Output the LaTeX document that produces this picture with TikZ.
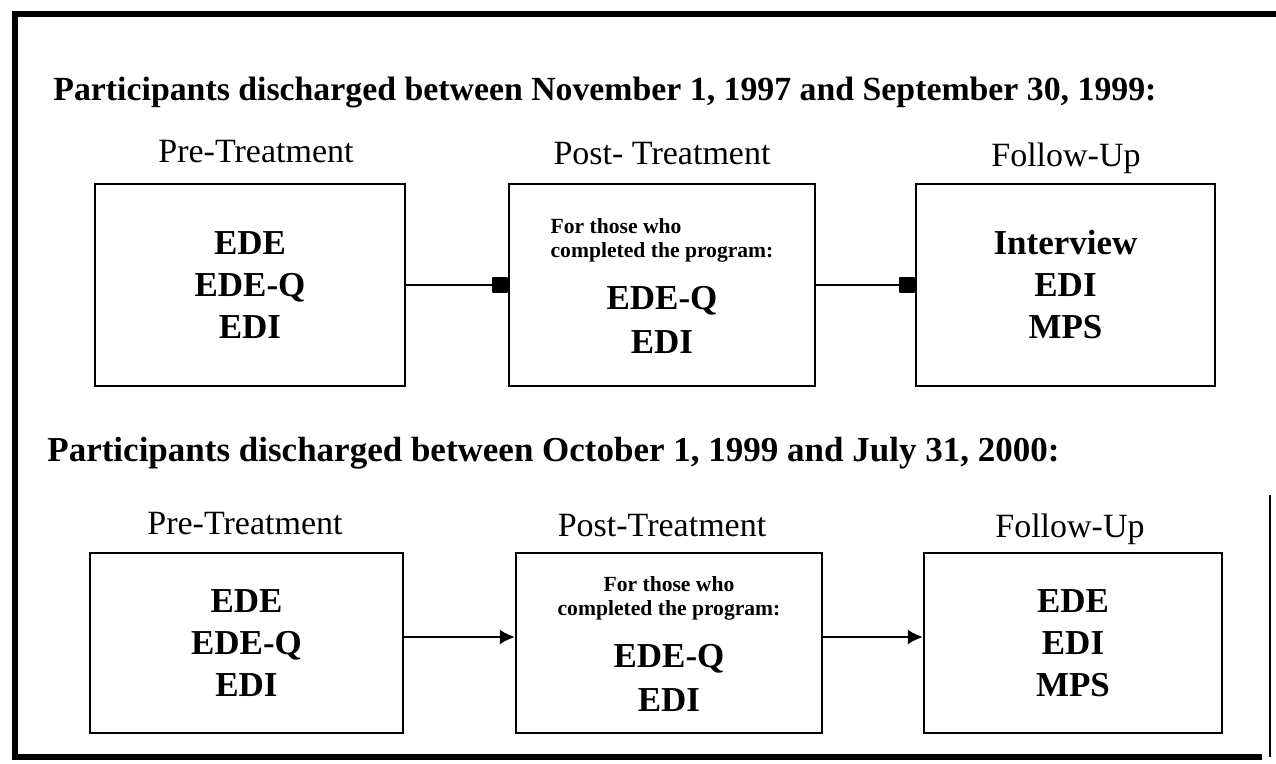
\documentclass[tikz,border=0pt]{standalone}
\usepackage{fontspec}
\setmainfont{Liberation Serif}
\usetikzlibrary{arrows.meta,positioning}

\tikzset{
  stage/.style={draw, line width=1.2pt, align=center, inner sep=0pt,
    font=\fontsize{17.5}{21}\selectfont\bfseries},
  phase/.style={anchor=base, inner sep=0pt, font=\fontsize{17}{20}\selectfont},
  period/.style={anchor=base west, inner sep=0pt, font=\fontsize{16.9}{20}\selectfont\bfseries},
  flow/.style={line width=1pt, -{Latex[length=7.5pt,width=7.5pt]}},
  flowblob/.style={line width=1pt, -{Square[round,length=8pt]}}
}
\newcommand{\completers}[1]{{\fontsize{10.8}{11.8}\selectfont
  \begin{tabular}[b]{@{}#1@{}}For those who\\completed the program:\end{tabular}}}

\begin{document}
\begin{tikzpicture}[x=0.5pt, y=-0.5pt]
\useasboundingbox (0,0) rectangle (1276,764);

% Frame
\draw[line width=2.8pt] (1276,14) -- (15,14) -- (15,757) -- (1262,757);
\draw[line width=1pt] (1270,495) -- (1270,757);

% First group
\node[period] (head1) at (53,101) {Participants discharged between November 1, 1997 and September 30, 1999:};

\node[phase] (pre1lbl) at (256,163) {Pre-Treatment};
\node[phase] (post1lbl) at (662,165) {Post- Treatment};
\node[phase] (fol1lbl) at (1066,167) {Follow-Up};

\node[stage, minimum width=155pt, minimum height=101pt] (pre1) at (250,285) {
    EDE\\ EDE-Q\\ EDI
};
\node[stage, minimum width=153pt, minimum height=101pt] (post1) at (662,285) {
    \completers{l}\\[5pt] EDE-Q\\[1pt] EDI
};
\node[stage, minimum width=149.5pt, minimum height=101pt] (fol1) at (1065.5,285) {
    Interview\\ EDI\\ MPS
};

\draw[flowblob] (pre1) -- (post1);
\draw[flowblob] (post1) -- (fol1);

% Second group
\node[period, font=\fontsize{17.5}{20}\selectfont\bfseries] (head2) at (47,462) {Participants discharged between October 1, 1999 and July 31, 2000:};

\node[phase] (pre2lbl) at (245,535) {Pre-Treatment};
\node[phase] (post2lbl) at (662,537) {Post-Treatment};
\node[phase] (fol2lbl) at (1070,538) {Follow-Up};

\node[stage, minimum width=156.5pt, minimum height=90pt] (pre2) at (246.5,643) {
    EDE\\ EDE-Q\\ EDI
};
\node[stage, minimum width=153pt, minimum height=90pt] (post2) at (669,643) {
    \completers{c}\\[5pt] EDE-Q\\[1pt] EDI
};
\node[stage, minimum width=149pt, minimum height=90pt] (fol2) at (1073,643) {
    EDE\\ EDI\\ MPS
};

\draw[flow] ([yshift=3pt]pre2.east) -- ([yshift=3pt]post2.west);
\draw[flow] ([yshift=3pt]post2.east) -- ([yshift=3pt]fol2.west);
\end{tikzpicture}
\end{document}
